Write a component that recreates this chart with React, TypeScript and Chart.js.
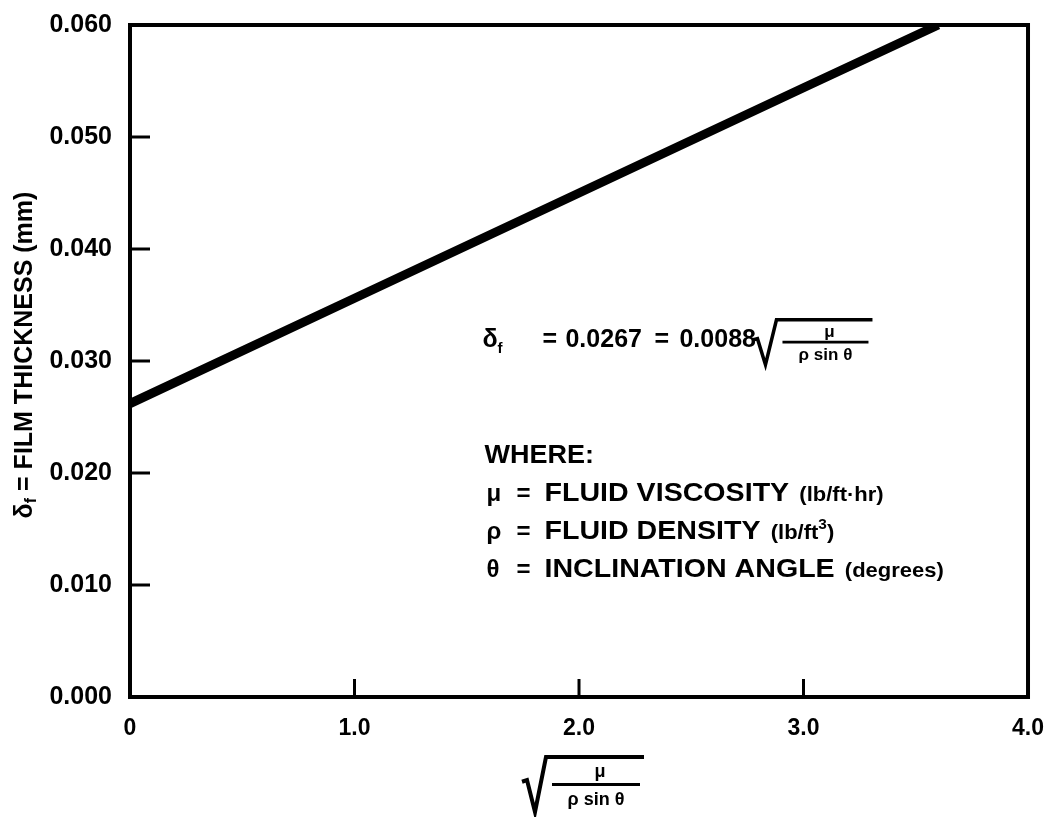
import { useEffect, useRef } from 'react';
import { Chart, registerables } from 'chart.js';

Chart.register(...registerables);

const FONT = '"Liberation Sans", Arial, Helvetica, sans-serif';

// x = sqrt(mu / (rho sin theta)), y = film thickness (mm)
const xValues = [0, 1.0, 2.0, 3.0, 3.6];
const filmThickness = [0.0262, 0.0356, 0.045, 0.0544, 0.06];

const xTickValues = [0, 1, 2, 3, 4];
const xTickLabels = ['0', '1.0', '2.0', '3.0', '4.0'];
const yTickValues = [0, 0.01, 0.02, 0.03, 0.04, 0.05, 0.06];
const yTickLabels = ['0.000', '0.010', '0.020', '0.030', '0.040', '0.050', '0.060'];

const equationText = ['\u03B4', 'f', '=', '0.0267', '=', '0.0088'];
const whereTitle = 'WHERE:';
const legendSymbols = ['\u03BC', '\u03C1', '\u03B8'];
const legendNames = ['FLUID VISCOSITY', 'FLUID DENSITY', 'INCLINATION ANGLE'];
const legendUnits = ['(lb/ft\u00B7hr)', '(lb/ft', '(degrees)'];
const yTitleMain = ' = FILM THICKNESS (mm)';

function drawRadicalFraction(
  ctx: CanvasRenderingContext2D,
  x: number,
  yTop: number,
  yBottom: number,
  w: number,
  fontSize: number,
  lw: number
) {
  const h = yBottom - yTop;
  ctx.save();
  ctx.strokeStyle = '#000';
  ctx.lineWidth = lw;
  ctx.lineJoin = 'miter';
  ctx.beginPath();
  ctx.moveTo(x, yTop + h * 0.45);
  ctx.lineTo(x + 5, yTop + h * 0.42);
  ctx.lineTo(x + 13, yBottom);
  ctx.lineTo(x + 24, yTop);
  ctx.lineTo(x + 24 + w, yTop);
  ctx.stroke();
  const barY = yTop + h * 0.5;
  ctx.lineWidth = lw * 0.8;
  ctx.beginPath();
  ctx.moveTo(x + 30, barY);
  ctx.lineTo(x + 20 + w, barY);
  ctx.stroke();
  const cx = x + 25 + w / 2;
  ctx.fillStyle = '#000';
  ctx.font = `bold ${fontSize}px ${FONT}`;
  ctx.textAlign = 'center';
  ctx.textBaseline = 'middle';
  ctx.fillText('\u03BC', cx + 4, yTop + h * 0.27);
  ctx.fillText('\u03C1 sin \u03B8', cx, yTop + h * 0.78);
  ctx.restore();
}

const overlayPlugin = {
  id: 'overlay',
  afterDraw(chart: any) {
    const ctx: CanvasRenderingContext2D = chart.ctx;
    const { left, top, right, bottom } = chart.chartArea;
    const xs = chart.scales.x;
    const ys = chart.scales.y;
    ctx.save();
    ctx.strokeStyle = '#000';
    ctx.fillStyle = '#000';

    // frame
    ctx.lineWidth = 4;
    ctx.strokeRect(left, top, right - left, bottom - top);

    // inward ticks
    ctx.lineWidth = 3;
    for (const v of yTickValues) {
      if (v === 0 || v === 0.06) continue;
      const py = ys.getPixelForValue(v);
      ctx.beginPath();
      ctx.moveTo(left, py);
      ctx.lineTo(left + 20, py);
      ctx.stroke();
    }
    for (const v of xTickValues) {
      if (v === 0 || v === 4) continue;
      const px = xs.getPixelForValue(v);
      ctx.beginPath();
      ctx.moveTo(px, bottom);
      ctx.lineTo(px, bottom - 18);
      ctx.stroke();
    }

    // y axis title (rotated)
    ctx.save();
    ctx.translate(25, 355);
    ctx.rotate(-Math.PI / 2);
    const big = `bold 25px ${FONT}`;
    const small = `bold 16px ${FONT}`;
    ctx.font = big;
    const wD = ctx.measureText('\u03B4').width;
    const wMain = ctx.measureText(yTitleMain).width;
    ctx.font = small;
    const wF = ctx.measureText('f').width;
    const total = wD + wF + wMain;
    let cx = -total / 2;
    ctx.textBaseline = 'middle';
    ctx.textAlign = 'left';
    ctx.font = big;
    ctx.fillText('\u03B4', cx, 0);
    cx += wD;
    ctx.font = small;
    ctx.fillText('f', cx, 7);
    cx += wF;
    ctx.font = big;
    ctx.fillText(yTitleMain, cx, 0);
    ctx.restore();

    // equation
    const ax = xs.getPixelForValue(1.57);
    const ay = ys.getPixelForValue(0.0319);
    ctx.textBaseline = 'middle';
    ctx.textAlign = 'left';
    ctx.font = `bold 25px ${FONT}`;
    ctx.fillText(equationText[0], ax, ay);
    ctx.font = `bold 15px ${FONT}`;
    ctx.fillText(equationText[1], ax + 15, ay + 9);
    ctx.font = `bold 25px ${FONT}`;
    ctx.fillText(equationText[2], ax + 60, ay);
    ctx.fillText(equationText[3], ax + 83, ay);
    ctx.fillText(equationText[4], ax + 172, ay);
    ctx.fillText(equationText[5], ax + 197, ay);
    drawRadicalFraction(ctx, ax + 270, ay - 20, ay + 25, 96, 17, 3.5);

    // where block
    const wy = ys.getPixelForValue(0.0215);
    ctx.font = `bold 25px ${FONT}`;
    ctx.save();
    ctx.translate(ax + 2, wy);
    ctx.scale(1.08, 1);
    ctx.fillText(whereTitle, 0, 0);
    ctx.restore();
    for (let i = 0; i < legendSymbols.length; i++) {
      const ly = wy + 38 * (i + 1);
      ctx.font = `bold 24px ${FONT}`;
      ctx.fillText(legendSymbols[i], ax + 4, ly);
      ctx.fillText('=', ax + 34, ly);
      ctx.save();
      ctx.translate(ax + 62, ly);
      ctx.scale(1.1, 1);
      ctx.font = `bold 26px ${FONT}`;
      ctx.fillText(legendNames[i], 0, 0);
      const nw = ctx.measureText(legendNames[i] + ' ').width;
      ctx.font = `bold 20px ${FONT}`;
      ctx.fillText(legendUnits[i], nw + 2, 1);
      if (i === 1) {
        const uw = ctx.measureText(legendUnits[i]).width;
        ctx.font = `bold 14px ${FONT}`;
        ctx.fillText('3', nw + 2 + uw, -7);
        const sw = ctx.measureText('3').width;
        ctx.font = `bold 20px ${FONT}`;
        ctx.fillText(')', nw + 2 + uw + sw, 1);
      }
      ctx.restore();
    }

    // x axis title
    drawRadicalFraction(ctx, 522, 757, 812, 98, 18, 4);

    ctx.restore();
  },
};

export default function App() {
  const ref = useRef<HTMLCanvasElement | null>(null);
  useEffect(() => {
    if (!ref.current) return;
    const chart = new Chart(ref.current, {
      type: 'scatter',
      data: {
        datasets: [
          {
            data: xValues.map((x, i) => ({ x, y: filmThickness[i] })),
            showLine: true,
            borderColor: '#000',
            backgroundColor: '#000',
            borderWidth: 9,
            pointRadius: 0,
            borderCapStyle: 'butt',
          },
        ],
      },
      options: {
        responsive: false,
        animation: false,
        devicePixelRatio: 1,
        layout: { padding: { top: 22, right: 6, left: 0, bottom: 0 } },
        plugins: {
          legend: { display: false },
          tooltip: { enabled: false },
        },
        scales: {
          x: {
            type: 'linear',
            min: 0,
            max: 4,
            grid: { display: false },
            border: { display: false },
            afterBuildTicks: (scale: any) => {
              scale.ticks = xTickValues.map((v) => ({ value: v }));
            },
            afterFit: (scale: any) => {
              scale.height = 120;
            },
            ticks: {
              color: '#000',
              padding: 10,
              font: { family: FONT, size: 23, weight: 'bold' },
              maxRotation: 0,
              callback: (v: any) => {
                const i = xTickValues.indexOf(Number(v));
                return i >= 0 ? xTickLabels[i] : '';
              },
            },
          },
          y: {
            type: 'linear',
            min: 0,
            max: 0.06,
            grid: { display: false },
            border: { display: false },
            afterBuildTicks: (scale: any) => {
              scale.ticks = yTickValues.map((v) => ({ value: v }));
            },
            afterFit: (scale: any) => {
              scale.width = 130;
            },
            ticks: {
              color: '#000',
              padding: 10,
              font: { family: FONT, size: 25, weight: 'bold' },
              callback: (v: any) => {
                const i = yTickValues.findIndex((t) => Math.abs(t - Number(v)) < 1e-9);
                return i >= 0 ? yTickLabels[i] : '';
              },
            },
          },
        },
      },
      plugins: [overlayPlugin],
    } as any);
    return () => chart.destroy();
  }, []);
  return (
    <div style={{ position: 'absolute', left: 0, top: 0, width: 1054, height: 817, background: '#fff' }}>
      <canvas ref={ref} width={1054} height={817} style={{ display: 'block' }} />
    </div>
  );
}
